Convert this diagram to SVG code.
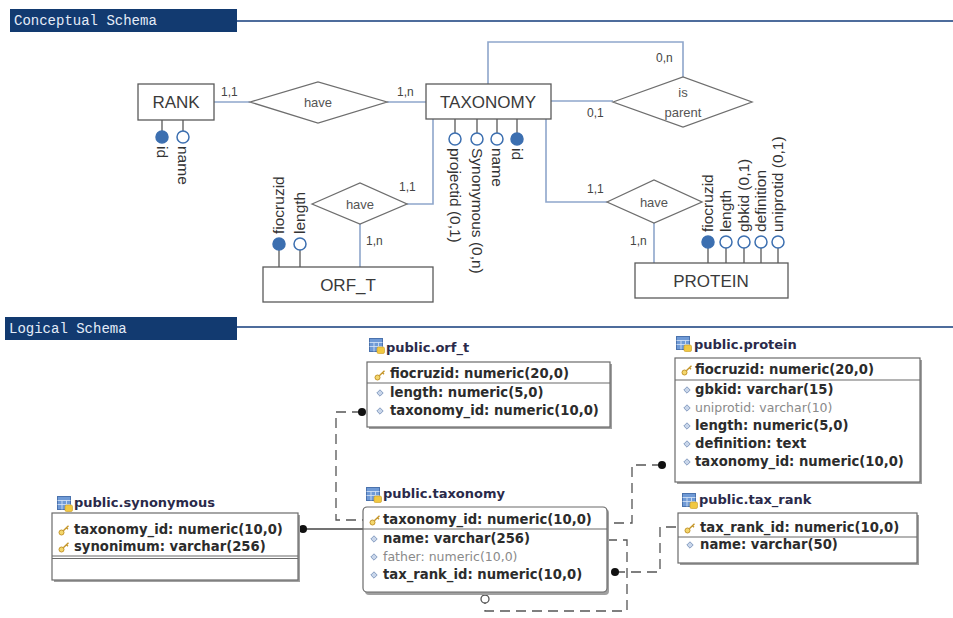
<svg xmlns="http://www.w3.org/2000/svg" width="953" height="618" viewBox="0 0 953 618">
  <style>
    .hdr { fill: #123a70; }
    .hdrtxt { font-family: "Liberation Mono", "DejaVu Sans Mono", monospace; font-size: 14px; fill: #e4ecf8; }
    .hdrline { stroke: #4d6c9c; stroke-width: 2; }
    .ent { fill: #ffffff; stroke: #5a5a5a; stroke-width: 1.3; }
    .rel { fill: #ffffff; stroke: #6e6e6e; stroke-width: 1.3; }
    .link { fill: none; stroke: #8ea6cb; stroke-width: 1.6; }
    .stem { stroke: #4a4a4a; stroke-width: 1.2; }
    .pk { fill: #3c6fb0; stroke: #3c6fb0; stroke-width: 1.5; }
    .att { fill: #ffffff; stroke: #3c6fb0; stroke-width: 1.5; }
    .ename { font-family: "Liberation Sans", Arial, sans-serif; font-size: 17px; fill: #3a3a3a; text-anchor: middle; }
    .rname { font-family: "Liberation Sans", Arial, sans-serif; font-size: 13px; fill: #555555; text-anchor: middle; }
    .card { font-family: "Liberation Sans", Arial, sans-serif; font-size: 12px; fill: #444444; }
    .alab { font-family: "Liberation Sans", Arial, sans-serif; font-size: 15.5px; fill: #333333; }
    .tbl { fill: #ffffff; stroke: #6b6b6b; stroke-width: 1.2; }
    .shadow { fill: #a0a0a0; }
    .sep { stroke: #6b6b6b; stroke-width: 1.2; }
    .ttl { font-family: "DejaVu Sans", Verdana, sans-serif; font-size: 13px; font-weight: bold; fill: #2a2a4a; }
    .col { font-family: "DejaVu Sans", Verdana, sans-serif; font-size: 13.2px; font-weight: bold; fill: #2c2c2c; }
    .opt { font-family: "DejaVu Sans", Verdana, sans-serif; font-size: 12.5px; fill: #8a8a8a; }
    .fk { fill: none; stroke: #555555; stroke-width: 1.3; stroke-dasharray: 10 6; }
    .solid { fill: none; stroke: #444444; stroke-width: 1.3; }
    .dot { fill: #111111; }
    .odot { fill: #ffffff; stroke: #555555; stroke-width: 1.3; }
  </style>
  <defs>
    <symbol id="ticon" viewBox="0 0 16 16" width="16" height="16">
      <rect x="0.5" y="0.5" width="13" height="13" fill="#6f9ad6" stroke="#4a72ad"/>
      <path d="M0.5 4.5 H13.5 M0.5 8.5 H13.5 M5 4.5 V13.5 M9.5 4.5 V13.5" stroke="#dbe7f7" stroke-width="0.8"/>
      <rect x="8" y="9" width="7.5" height="6.5" rx="1.5" fill="#f1c842" stroke="#c99a1e" stroke-width="0.6"/>
    </symbol>
    <symbol id="key" viewBox="0 0 12 12" width="12" height="12">
      <circle cx="3.5" cy="8.5" r="2.5" fill="#f3d66c" stroke="#c5962a" stroke-width="1"/>
      <path d="M5.3 6.8 L10.5 1.8 M8.5 3.8 L10 5.2" stroke="#c5962a" stroke-width="1.4" fill="none"/>
    </symbol>
    <symbol id="bul" viewBox="0 0 8 8" width="8" height="8">
      <polygon points="4,0.8 7.2,4 4,7.2 0.8,4" fill="#c9d6ea" stroke="#7d95bb" stroke-width="0.9"/>
    </symbol>
  </defs>

  <rect width="953" height="618" fill="#ffffff"/>

  <!-- section headers -->
  <g id="hdr-conceptual">
    <rect class="hdr" x="10" y="9" width="227" height="23"/>
    <text class="hdrtxt" x="14" y="25">Conceptual Schema</text>
    <line class="hdrline" x1="237" y1="21" x2="953" y2="21"/>
  </g>
  <g id="hdr-logical">
    <rect class="hdr" x="5" y="317" width="232" height="23"/>
    <text class="hdrtxt" x="9" y="333">Logical Schema</text>
    <line class="hdrline" x1="237" y1="327" x2="953" y2="327"/>
  </g>

  <!-- ER connectors -->
  <g id="er-links">
    <line class="link" x1="214" y1="102" x2="250" y2="102"/>
    <line class="link" x1="387" y1="102" x2="426" y2="102"/>
    <polyline class="link" points="488,84 488,42 683,42 683,77"/>
    <line class="link" x1="551" y1="101" x2="613" y2="101"/>
    <polyline class="link" points="433,119 433,204 407,204"/>
    <line class="link" x1="360" y1="224" x2="360" y2="267"/>
    <polyline class="link" points="546,119 546,202 607,202"/>
    <line class="link" x1="654" y1="223" x2="654" y2="263"/>
    <text class="card" x="221" y="96">1,1</text>
    <text class="card" x="397" y="96">1,n</text>
    <text class="card" x="656" y="62">0,n</text>
    <text class="card" x="587" y="117">0,1</text>
    <text class="card" x="399" y="191">1,1</text>
    <text class="card" x="366" y="245">1,n</text>
    <text class="card" x="587" y="193">1,1</text>
    <text class="card" x="630" y="245">1,n</text>
  </g>

  <!-- ER entities -->
  <g id="rank">
    <line class="stem" x1="162" y1="120" x2="162" y2="131"/>
    <line class="stem" x1="183" y1="120" x2="183" y2="131"/>
    <rect class="ent" x="138" y="84" width="76" height="36"/>
    <text class="ename" x="176" y="108">RANK</text>
    <circle class="pk" cx="162" cy="137" r="6"/>
    <circle class="att" cx="183" cy="137" r="6"/>
    <text class="alab" transform="translate(157,146) rotate(90)">id</text>
    <text class="alab" transform="translate(178,146) rotate(90)">name</text>
  </g>

  <g id="rel-rank-taxonomy">
    <polygon class="rel" points="250,102 318,82 387,102 318,123"/>
    <text class="rname" x="318" y="107">have</text>
  </g>

  <g id="taxonomy">
    <line class="stem" x1="455" y1="119" x2="455" y2="133"/>
    <line class="stem" x1="477" y1="119" x2="477" y2="133"/>
    <line class="stem" x1="497" y1="119" x2="497" y2="133"/>
    <line class="stem" x1="517" y1="119" x2="517" y2="133"/>
    <rect class="ent" x="426" y="84" width="125" height="35"/>
    <text class="ename" x="488" y="108">TAXONOMY</text>
    <circle class="att" cx="455" cy="139" r="6"/>
    <circle class="att" cx="477" cy="139" r="6"/>
    <circle class="att" cx="497" cy="139" r="6"/>
    <circle class="pk" cx="517" cy="139" r="6"/>
    <text class="alab" transform="translate(450,148) rotate(90)">projectid (0,1)</text>
    <text class="alab" transform="translate(472,148) rotate(90)">Synonymous (0,n)</text>
    <text class="alab" transform="translate(492,148) rotate(90)">name</text>
    <text class="alab" transform="translate(512,148) rotate(90)">id</text>
  </g>

  <g id="rel-is-parent">
    <polygon class="rel" points="613,102 683,77 752,102 683,127"/>
    <text class="rname" x="683" y="97">is</text>
    <text class="rname" x="683" y="117">parent</text>
  </g>

  <g id="rel-orf-taxonomy">
    <polygon class="rel" points="312,204 360,183 407,204 360,224"/>
    <text class="rname" x="360" y="209">have</text>
  </g>

  <g id="orf_t">
    <line class="stem" x1="279" y1="250" x2="279" y2="267"/>
    <line class="stem" x1="300" y1="250" x2="300" y2="267"/>
    <rect class="ent" x="263" y="267" width="170" height="35"/>
    <text class="ename" x="348" y="291">ORF_T</text>
    <circle class="pk" cx="279" cy="244" r="6"/>
    <circle class="att" cx="300" cy="244" r="6"/>
    <text class="alab" transform="translate(284,234) rotate(-90)">fiocruzid</text>
    <text class="alab" transform="translate(305,234) rotate(-90)">length</text>
  </g>

  <g id="rel-protein-taxonomy">
    <polygon class="rel" points="607,202 654,180 702,202 654,223"/>
    <text class="rname" x="654" y="207">have</text>
  </g>

  <g id="protein">
    <line class="stem" x1="708" y1="248" x2="708" y2="263"/>
    <line class="stem" x1="726" y1="248" x2="726" y2="263"/>
    <line class="stem" x1="744" y1="248" x2="744" y2="263"/>
    <line class="stem" x1="761" y1="248" x2="761" y2="263"/>
    <line class="stem" x1="778" y1="248" x2="778" y2="263"/>
    <rect class="ent" x="635" y="263" width="153" height="35"/>
    <text class="ename" x="711" y="287">PROTEIN</text>
    <circle class="pk" cx="708" cy="242" r="6"/>
    <circle class="att" cx="726" cy="242" r="6"/>
    <circle class="att" cx="744" cy="242" r="6"/>
    <circle class="att" cx="761" cy="242" r="6"/>
    <circle class="att" cx="778" cy="242" r="6"/>
    <text class="alab" transform="translate(713,232) rotate(-90)">fiocruzid</text>
    <text class="alab" transform="translate(731,232) rotate(-90)">length</text>
    <text class="alab" transform="translate(749,232) rotate(-90)">gbkid (0,1)</text>
    <text class="alab" transform="translate(766,232) rotate(-90)">definition</text>
    <text class="alab" transform="translate(783,232) rotate(-90)">uniprotid (0,1)</text>
  </g>

  <!-- logical schema foreign-key connectors -->
  <g id="fk-links">
    <path class="fk" d="M362,412 H336 V520 H363"/>
    <path class="solid" d="M303,529 H363"/>
    <path class="fk" d="M662,465 H632 V523 H607"/>
    <path class="fk" d="M607,540 H627 V611 H485 V603"/>
    <path class="fk" d="M615,572 H660 V527 H678"/>
    <circle class="dot" cx="362" cy="412" r="4"/>
    <circle class="dot" cx="303" cy="529" r="4"/>
    <circle class="dot" cx="662" cy="465" r="4"/>
    <circle class="dot" cx="615" cy="572" r="4"/>
    <circle class="odot" cx="485" cy="599" r="4"/>
  </g>

  <!-- tables -->
  <g id="tbl-orf_t">
    <use href="#ticon" x="369" y="338"/>
    <text class="ttl" x="386" y="352">public.orf_t</text>
    <rect class="shadow" x="369" y="364" width="243" height="65"/>
    <rect class="tbl" x="367" y="362" width="243" height="65"/>
    <line class="sep" x1="367" y1="383" x2="610" y2="383"/>
    <use href="#key" x="374" y="369"/>
    <text class="col" x="390" y="378">fiocruzid: numeric(20,0)</text>
    <use href="#bul" x="376" y="389"/>
    <text class="col" x="390" y="397">length: numeric(5,0)</text>
    <use href="#bul" x="376" y="407"/>
    <text class="col" x="390" y="415">taxonomy_id: numeric(10,0)</text>
  </g>

  <g id="tbl-protein">
    <use href="#ticon" x="676" y="336"/>
    <text class="ttl" x="694" y="349">public.protein</text>
    <rect class="shadow" x="677" y="360" width="245" height="124"/>
    <rect class="tbl" x="675" y="358" width="245" height="124"/>
    <line class="sep" x1="675" y1="380" x2="920" y2="380"/>
    <use href="#key" x="681" y="364"/>
    <text class="col" x="695" y="374">fiocruzid: numeric(20,0)</text>
    <use href="#bul" x="683" y="386"/>
    <text class="col" x="695" y="394">gbkid: varchar(15)</text>
    <use href="#bul" x="683" y="404"/>
    <text class="opt" x="695" y="412">uniprotid: varchar(10)</text>
    <use href="#bul" x="683" y="422"/>
    <text class="col" x="695" y="430">length: numeric(5,0)</text>
    <use href="#bul" x="683" y="440"/>
    <text class="col" x="695" y="448">definition: text</text>
    <use href="#bul" x="683" y="458"/>
    <text class="col" x="695" y="466">taxonomy_id: numeric(10,0)</text>
  </g>

  <g id="tbl-synonymous">
    <use href="#ticon" x="57" y="496"/>
    <text class="ttl" x="74" y="507">public.synonymous</text>
    <rect class="shadow" x="54" y="515" width="246" height="67"/>
    <rect class="tbl" x="52" y="513" width="246" height="67"/>
    <line class="sep" x1="52" y1="556" x2="298" y2="556"/>
    <line class="sep" x1="52" y1="558.5" x2="298" y2="558.5"/>
    <use href="#key" x="58" y="524"/>
    <text class="col" x="74" y="534">taxonomy_id: numeric(10,0)</text>
    <use href="#key" x="58" y="541"/>
    <text class="col" x="74" y="551">synonimum: varchar(256)</text>
  </g>

  <g id="tbl-taxonomy">
    <use href="#ticon" x="366" y="487"/>
    <text class="ttl" x="383" y="498">public.taxonomy</text>
    <rect class="shadow" x="365" y="509" width="244" height="86" rx="4"/>
    <rect class="tbl" x="363" y="507" width="244" height="85" rx="4"/>
    <line class="sep" x1="363" y1="529" x2="607" y2="529"/>
    <use href="#key" x="369" y="514"/>
    <text class="col" x="383" y="524">taxonomy_id: numeric(10,0)</text>
    <use href="#bul" x="370" y="535"/>
    <text class="col" x="383" y="543">name: varchar(256)</text>
    <use href="#bul" x="370" y="553"/>
    <text class="opt" x="383" y="561">father: numeric(10,0)</text>
    <use href="#bul" x="370" y="571"/>
    <text class="col" x="383" y="579">tax_rank_id: numeric(10,0)</text>
  </g>

  <g id="tbl-tax_rank">
    <use href="#ticon" x="682" y="493"/>
    <text class="ttl" x="699" y="504">public.tax_rank</text>
    <rect class="shadow" x="680" y="515" width="239" height="50"/>
    <rect class="tbl" x="678" y="513" width="239" height="50"/>
    <line class="sep" x1="678" y1="537" x2="917" y2="537"/>
    <use href="#key" x="684" y="522"/>
    <text class="col" x="700" y="532">tax_rank_id: numeric(10,0)</text>
    <use href="#bul" x="686" y="541"/>
    <text class="col" x="700" y="549">name: varchar(50)</text>
  </g>
</svg>
